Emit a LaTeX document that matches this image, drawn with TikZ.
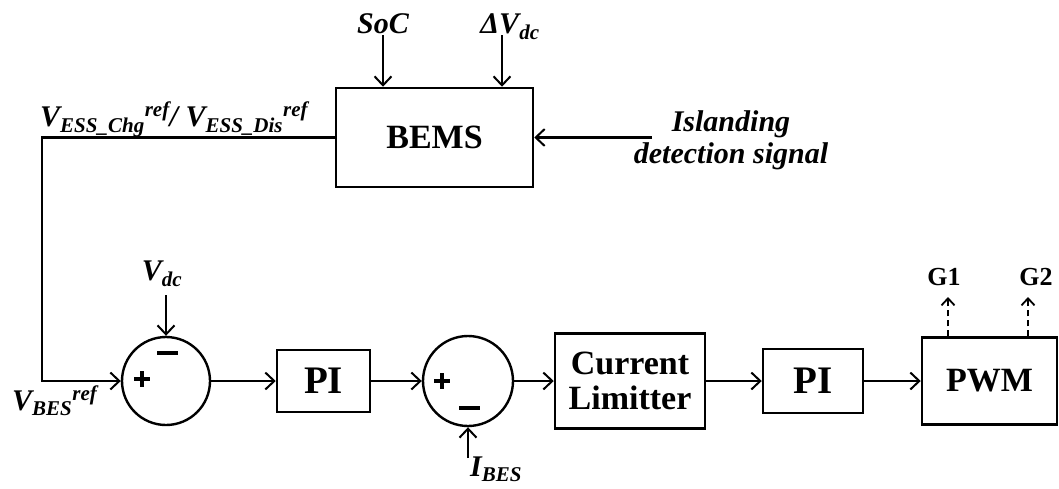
\documentclass[tikz,border=0pt]{standalone}
\usepackage{fontspec}
\setmainfont{Liberation Serif}
\usetikzlibrary{arrows.meta}

\newcommand{\biv}[3]{\textit{#1\textsubscript{#2}\textsuperscript{#3}}}

\begin{document}
\begin{tikzpicture}[x=1pt,y=-1pt,
  blk/.style={draw, line width=2.5pt, inner sep=0pt, align=center,
    font=\bfseries\fontsize{34}{37}\selectfont},
  sumj/.style={draw, circle, line width=2.4pt, inner sep=0pt},
  sig/.style={line width=2.3pt, -{Straight Barb[length=9pt,width=17pt,line width=2pt]}},
  gate/.style={line width=2.3pt, dash pattern=on 6pt off 4pt,
    -{Straight Barb[length=7pt,width=13pt,line width=1.8pt]}},
  lab/.style={inner sep=0pt, font=\bfseries\itshape\fontsize{30}{33}\selectfont},
  sgn/.style={line width=3.6pt},
  gl/.style={inner sep=0pt, font=\bfseries\fontsize{26}{28}\selectfont}]

\useasboundingbox (0,0) rectangle (1059,488);

% blocks
\node[blk, minimum width=197pt, minimum height=99pt] (bems) at (434.5,137.5) {BEMS};
\node[sumj, minimum size=88pt] (s1) at (166,381) {};
\node[blk, minimum width=93pt, minimum height=62pt, font=\bfseries\fontsize{39}{40}\selectfont] (pi1) at (323.5,381) {PI};
\node[sumj, minimum size=90pt] (s2) at (468,381) {};
\node[blk, minimum width=150pt, minimum height=95pt] (cl) at (630,381) {Current\\[-2pt]Limitter};
\node[blk, minimum width=100pt, minimum height=64pt, font=\bfseries\fontsize{39}{40}\selectfont] (pi2) at (813,381) {PI};
\node[blk, minimum width=135pt, minimum height=87pt] (pwm) at (989.5,381) {PWM};

% signs on the summing junctions
\draw[sgn] (134,379) -- (150,379) (142,371) -- (142,387);
\draw[sgn] (157,353) -- (178,353);
\draw[sgn] (434,381) -- (450,381) (442,373) -- (442,389);
\draw[sgn] (459,408) -- (480,408);

% inputs to the BEMS
\coordinate (socin) at (383,35);
\coordinate (dvin) at (502,35);
\coordinate (islin) at (652,137.5);
\draw[sig] (socin) -- (socin |- bems.north);
\draw[sig] (dvin) -- (dvin |- bems.north);
\draw[sig] (islin) -- (bems.east);
\node[lab, anchor=base] at (383,33) {SoC};
\node[lab, anchor=base] at (510,33) {\textit{ΔV\textsubscript{dc}}};
\node[lab, align=center, anchor=base] at (731,163) {Islanding\\[-1pt]detection signal};

% reference from the BEMS to the voltage loop
\coordinate (bend) at (42,381);
\draw[sig] (bems.west) -| (bend) -- (s1.west);
\node[lab, anchor=base west] at (40,126) {\biv{V}{ESS\_Chg}{ref}/ \biv{V}{ESS\_Dis}{ref}};
\node[lab, anchor=base west] at (12,410) {\biv{V}{BES}{ref}};

% voltage feedback
\coordinate (vdcin) at (166,295);
\draw[sig] (vdcin) -- (s1.north);
\node[lab, anchor=base] at (162,280) {\textit{V\textsubscript{dc}}};

% current feedback
\coordinate (ibin) at (468,458);
\draw[sig] (ibin) -- (s2.south);
\node[lab, anchor=base west] at (470,476) {\textit{I\textsubscript{BES}}};

% forward path
\draw[sig] (s1.east) -- (pi1.west);
\draw[sig] (pi1.east) -- (s2.west);
\draw[sig] (s2.east) -- (cl.west);
\draw[sig] (cl.east) -- (pi2.west);
\draw[sig] (pi2.east) -- (pwm.west);

% gate signals
\coordinate (g1a) at (948,297);
\coordinate (g2a) at (1028,297);
\draw[gate] (g1a |- pwm.north) -- (g1a);
\draw[gate] (g2a |- pwm.north) -- (g2a);
\node[gl, anchor=base] at (944,285) {G1};
\node[gl, anchor=base] at (1036,285) {G2};
\end{tikzpicture}
\end{document}
